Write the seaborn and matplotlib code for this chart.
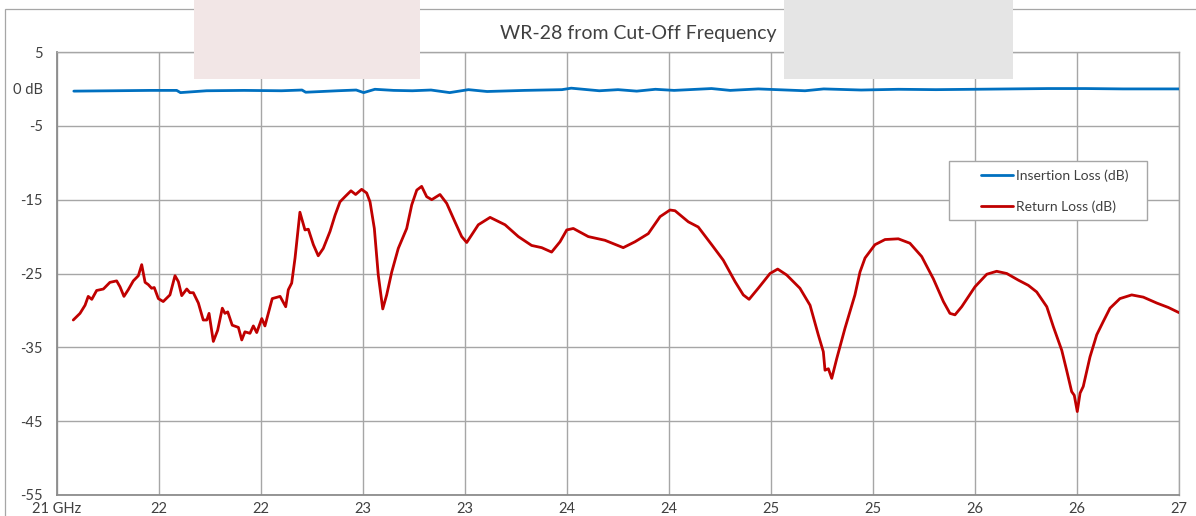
import numpy as np
import pandas as pd
import matplotlib
matplotlib.use('Agg')
import matplotlib.pyplot as plt
from matplotlib.patches import Rectangle
from matplotlib.lines import Line2D
import seaborn as sns

# ---------------- data ----------------
title = 'WR-28 from Cut-Off Frequency'
series_names = ['Insertion Loss (dB)', 'Return Loss (dB)']
series_colors = ['#0070c0', '#c00000']

x_tick_labels = ['21 GHz', '22', '22', '23', '23', '24', '24', '25', '25', '26', '26', '27']
y_major_ticks = [5, -5, -15, -25, -35, -45, -55]
y_major_labels = ['5', '-5', '-15', '-25', '-35', '-45', '-55']
y_minor_ticks = [0]
y_minor_labels = ['0 dB']

rl_freq = [21.087, 21.123, 21.150, 21.167, 21.186, 21.212, 21.248, 21.283, 21.319, 21.337,
           21.358, 21.381, 21.408, 21.435, 21.453, 21.471, 21.488, 21.506, 21.520, 21.542,
           21.568, 21.604, 21.631, 21.649, 21.667, 21.694, 21.711, 21.729, 21.756, 21.782,
           21.801, 21.813, 21.836, 21.859, 21.884, 21.898, 21.913, 21.937, 21.970, 21.988,
           22.005, 22.032, 22.050, 22.068, 22.095, 22.112,
           22.130, 22.151, 22.193, 22.223, 22.237, 22.255, 22.273, 22.299, 22.326, 22.344,
           22.371, 22.397, 22.424, 22.460, 22.487, 22.513, 22.540, 22.572, 22.597, 22.629,
           22.656, 22.674, 22.697, 22.718, 22.742, 22.763, 22.790, 22.825, 22.870, 22.897,
           22.924, 22.950, 22.977, 23.004, 23.048, 23.084, 23.128,
           23.164, 23.191, 23.253, 23.316, 23.396, 23.467, 23.538, 23.592, 23.645, 23.690,
           23.726, 23.761, 23.841, 23.930, 24.028, 24.091, 24.162, 24.225,
           24.278, 24.305, 24.376, 24.429, 24.501, 24.563, 24.626, 24.670, 24.701, 24.750,
           24.813, 24.854, 24.902, 24.973, 25.027, 25.071, 25.098, 25.107, 25.125, 25.143,
           25.170, 25.214, 25.267, 25.294,
           25.321, 25.374, 25.428, 25.499, 25.561, 25.624, 25.686, 25.740, 25.775, 25.802,
           25.838, 25.909, 25.972, 26.025, 26.079, 26.141, 26.194, 26.239, 26.293,
           26.328, 26.373, 26.399, 26.426, 26.440, 26.456, 26.471, 26.488, 26.524, 26.560,
           26.595, 26.631, 26.684, 26.747, 26.809, 26.881, 26.943, 27.000]
rl_db = [-31.3, -30.4, -29.3, -28.1, -28.5, -27.3, -27.1, -26.2, -26.0, -26.8,
         -28.1, -27.2, -26.0, -25.3, -23.8, -26.2, -26.5, -27.0, -26.9, -28.4,
         -28.8, -27.9, -25.3, -26.1, -28.0, -27.1, -27.6, -27.6, -29.0, -31.3,
         -31.3, -30.4, -34.2, -32.7, -29.7, -30.4, -30.2, -32.0, -32.3, -34.0,
         -32.9, -33.1, -32.1, -33.0, -31.1, -32.1,
         -30.4, -28.4, -28.1, -29.5, -27.2, -26.3, -22.9, -16.7, -19.1, -19.0,
         -21.1, -22.6, -21.6, -19.3, -17.1, -15.3, -14.6, -13.8, -14.3, -13.6,
         -14.1, -15.3, -18.9, -25.2, -29.8, -27.9, -24.8, -21.6, -18.9, -15.7,
         -13.7, -13.2, -14.6, -15.0, -14.3, -15.5, -18.0,
         -20.0, -20.8, -18.4, -17.4, -18.4, -20.0, -21.2, -21.5, -22.1, -20.7,
         -19.1, -18.9, -20.0, -20.5, -21.5, -20.7, -19.6, -17.3,
         -16.4, -16.5, -18.0, -18.7, -21.1, -23.2, -26.1, -27.9, -28.5, -27.0,
         -25.0, -24.4, -25.2, -27.0, -29.3, -33.3, -35.6, -38.1, -37.9, -39.2,
         -36.5, -32.4, -27.9, -24.8,
         -22.9, -21.1, -20.4, -20.3, -20.9, -22.7, -25.7, -28.8, -30.4, -30.6,
         -29.5, -26.8, -25.1, -24.7, -25.0, -25.9, -26.6, -27.5, -29.5,
         -32.2, -35.4, -38.1, -41.0, -41.5, -43.7, -41.2, -40.3, -36.3, -33.3,
         -31.5, -29.7, -28.4, -27.9, -28.2, -29.0, -29.6, -30.3]

il_freq = [21.09, 21.30, 21.50, 21.64, 21.66, 21.80, 22.00, 22.20, 22.31, 22.33,
           22.50, 22.60, 22.64, 22.70, 22.80, 22.90, 23.00, 23.10, 23.20, 23.30,
           23.50, 23.70, 23.75, 23.90, 24.00, 24.10, 24.20, 24.30, 24.50, 24.60,
           24.75, 24.90, 25.00, 25.10, 25.30, 25.50, 25.70, 25.90, 26.10, 26.30,
           26.50, 26.70, 27.00]
il_db = [-0.3, -0.25, -0.2, -0.2, -0.5, -0.25, -0.2, -0.25, -0.15, -0.45,
         -0.25, -0.15, -0.5, -0.05, -0.2, -0.25, -0.15, -0.5, -0.1, -0.35,
         -0.2, -0.1, 0.1, -0.25, -0.1, -0.3, -0.05, -0.2, 0.05, -0.2,
         0.0, -0.15, -0.25, 0.0, -0.15, -0.05, -0.1, -0.05, 0.0, 0.05,
         0.05, 0.0, 0.0]

# ---------------- figure ----------------
sns.set_theme(style='white')
plt.rcParams['font.family'] = ['Lato', 'DejaVu Sans']

W, H = 1196, 516
fig = plt.figure(figsize=(W / 100, H / 100), dpi=100)
fig.patch.set_facecolor('white')

# outer chart border and the two shaded overlays at the top
fig.patches.append(Rectangle((5 / W, -0.05), 1.2, 1 - 9 / H + 0.05, transform=fig.transFigure,
                             fill=False, edgecolor='#a6a6a6', lw=0.9, zorder=0))
fig.patches.append(Rectangle((194 / W, 1 - 79 / H), (420 - 194) / W, 79 / H + 0.01,
                             transform=fig.transFigure, facecolor='#f2e6e6', edgecolor='none', zorder=1))
fig.patches.append(Rectangle((784 / W, 1 - 79 / H), (1013 - 784) / W, 79 / H + 0.01,
                             transform=fig.transFigure, facecolor='#e5e5e5', edgecolor='none', zorder=1))

ax = fig.add_axes([57 / W, 21 / H, 1122 / W, 443 / H])
ax.set_facecolor('none')

df = pd.concat([
    pd.DataFrame({'GHz': il_freq, 'dB': il_db, 'series': series_names[0]}),
    pd.DataFrame({'GHz': rl_freq, 'dB': rl_db, 'series': series_names[1]}),
], ignore_index=True)

palette = dict(zip(series_names, series_colors))
sns.lineplot(data=df, x='GHz', y='dB', hue='series', palette=palette, estimator=None,
             sort=False, lw=2.0, legend=False, ax=ax, zorder=3)
for ln in ax.lines:
    ln.set_solid_joinstyle('round')

ax.set_xlim(21, 27)
ax.set_ylim(-55, 5)
ax.set_xticks(np.linspace(21, 27, len(x_tick_labels)))
ax.set_xticklabels(x_tick_labels)
ax.set_yticks(y_major_ticks)
ax.set_yticklabels(y_major_labels)
ax.set_yticks(y_minor_ticks, minor=True)
ax.set_yticklabels(y_minor_labels, minor=True)
ax.set_xlabel('')
ax.set_ylabel('')

ax.grid(True, which='major', color='#a6a6a6', lw=1.0)
ax.grid(False, which='minor')
ax.tick_params(axis='both', which='both', length=0, labelsize=10.5, labelcolor='#404040')
ax.tick_params(axis='x', pad=5)
ax.tick_params(axis='y', which='both', pad=10)

for side in ['top', 'right']:
    ax.spines[side].set_color('#a6a6a6')
    ax.spines[side].set_linewidth(1.0)
for side in ['left', 'bottom']:
    ax.spines[side].set_color('#8c8c8c')
    ax.spines[side].set_linewidth(1.3)

# title
fig.text(638 / W, 1 - 33 / H, title, ha='center', va='center', fontsize=14, color='#404040')

# legend box
ax.add_patch(Rectangle((0.795, 0.621), 0.9715 - 0.795, 0.754 - 0.621, transform=ax.transAxes,
                       facecolor='white', edgecolor='#a6a6a6', lw=1.0, zorder=5))
handles = [Line2D([], [], color=c, lw=2.0) for c in series_colors]
leg = ax.legend(handles, series_names, loc='upper left', bbox_to_anchor=(0.8235, 0.735),
                frameon=False, borderpad=0, borderaxespad=0, handlelength=2.3,
                handletextpad=0.25, labelspacing=1.3, fontsize=10, labelcolor='#404040')
leg.set_zorder(6)

fig.savefig('out.png', dpi=100)
